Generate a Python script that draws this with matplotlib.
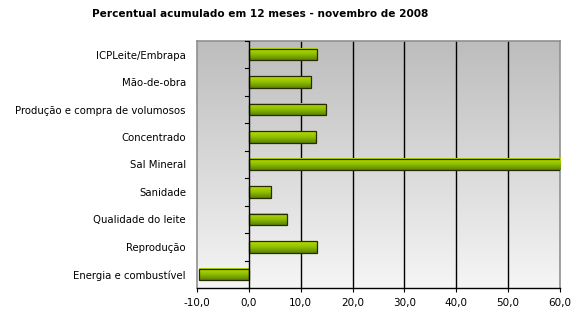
import numpy as np
import matplotlib.pyplot as plt
from matplotlib.colors import LinearSegmentedColormap

categorias = ["ICPLeite/Embrapa", "Mão-de-obra", "Produção e compra de volumosos",
              "Concentrado", "Sal Mineral", "Sanidade", "Qualidade do leite",
              "Reprodução", "Energia e combustível"]
valores = [13.2, 11.9, 14.8, 13.0, 62.0, 4.2, 7.4, 13.2, -9.6]
xticks = [-10, 0, 10, 20, 30, 40, 50, 60]

fig = plt.figure(figsize=(5.8, 3.22), dpi=100)
ax = fig.add_axes([197/580, 34/322, 363/580, 247/322])

n = len(categorias)
y = np.arange(n)
xmin, xmax = -10, 60

# fondo con degradado gris
bg = LinearSegmentedColormap.from_list("bg", ["#bdbdbd", "#f5f5f5"])
ax.imshow(np.linspace(0, 1, 100).reshape(-1, 1), cmap=bg, aspect="auto",
          extent=[xmin, xmax, n - 0.5, -0.5], zorder=0)

for t in xticks[2:-1]:
    ax.axvline(t, color="black", lw=1.0, zorder=1)

verde = LinearSegmentedColormap.from_list("verde", ["#b8de00", "#8fbf00", "#5a8400"])
grad = np.linspace(0, 1, 50).reshape(-1, 1)
h = 0.42
bars = ax.barh(y, valores, height=h, color="#8cbc00", edgecolor="#2a2a00",
               lw=0.9, zorder=3)
for b in bars:
    x0, w = b.get_x(), b.get_width()
    y0, bh = b.get_y(), b.get_height()
    xa, xb = max(min(x0, x0 + w), xmin), min(max(x0, x0 + w), xmax)
    im = ax.imshow(grad, cmap=verde, aspect="auto",
                   extent=[xa, xb, y0 + bh, y0], zorder=3.5)
    b.set_facecolor("none")
    b.set_zorder(4)

ax.set_xlim(xmin, xmax)
ax.set_ylim(n - 0.5, -0.5)

# eixo vertical no zero com marcas entre categorias
ax.axvline(0, color="black", lw=1.0, zorder=5)
for yb in np.arange(n + 1) - 0.5:
    ax.plot([-0.8, 0], [yb, yb], color="black", lw=0.8, zorder=5, clip_on=False)

ax.set_yticks(y)
ax.set_yticklabels(categorias, fontsize=7.3)
ax.tick_params(axis="y", length=0, pad=8)
ax.set_xticks(xticks)
ax.set_xticklabels([f"{t:.1f}".replace(".", ",") for t in xticks], fontsize=7.5)
ax.tick_params(axis="x", length=3, width=0.8, pad=4)

for s in ["left", "top", "right"]:
    ax.spines[s].set_color("#909090")
    ax.spines[s].set_linewidth(1.2)
ax.spines["bottom"].set_color("black")
ax.spines["bottom"].set_linewidth(1.0)

fig.text(260/580, 1 - 14/322, "Percentual acumulado em 12 meses - novembro de 2008",
         fontsize=7.6, fontweight="bold", ha="center", va="center")

fig.savefig("out.png", dpi=100)
